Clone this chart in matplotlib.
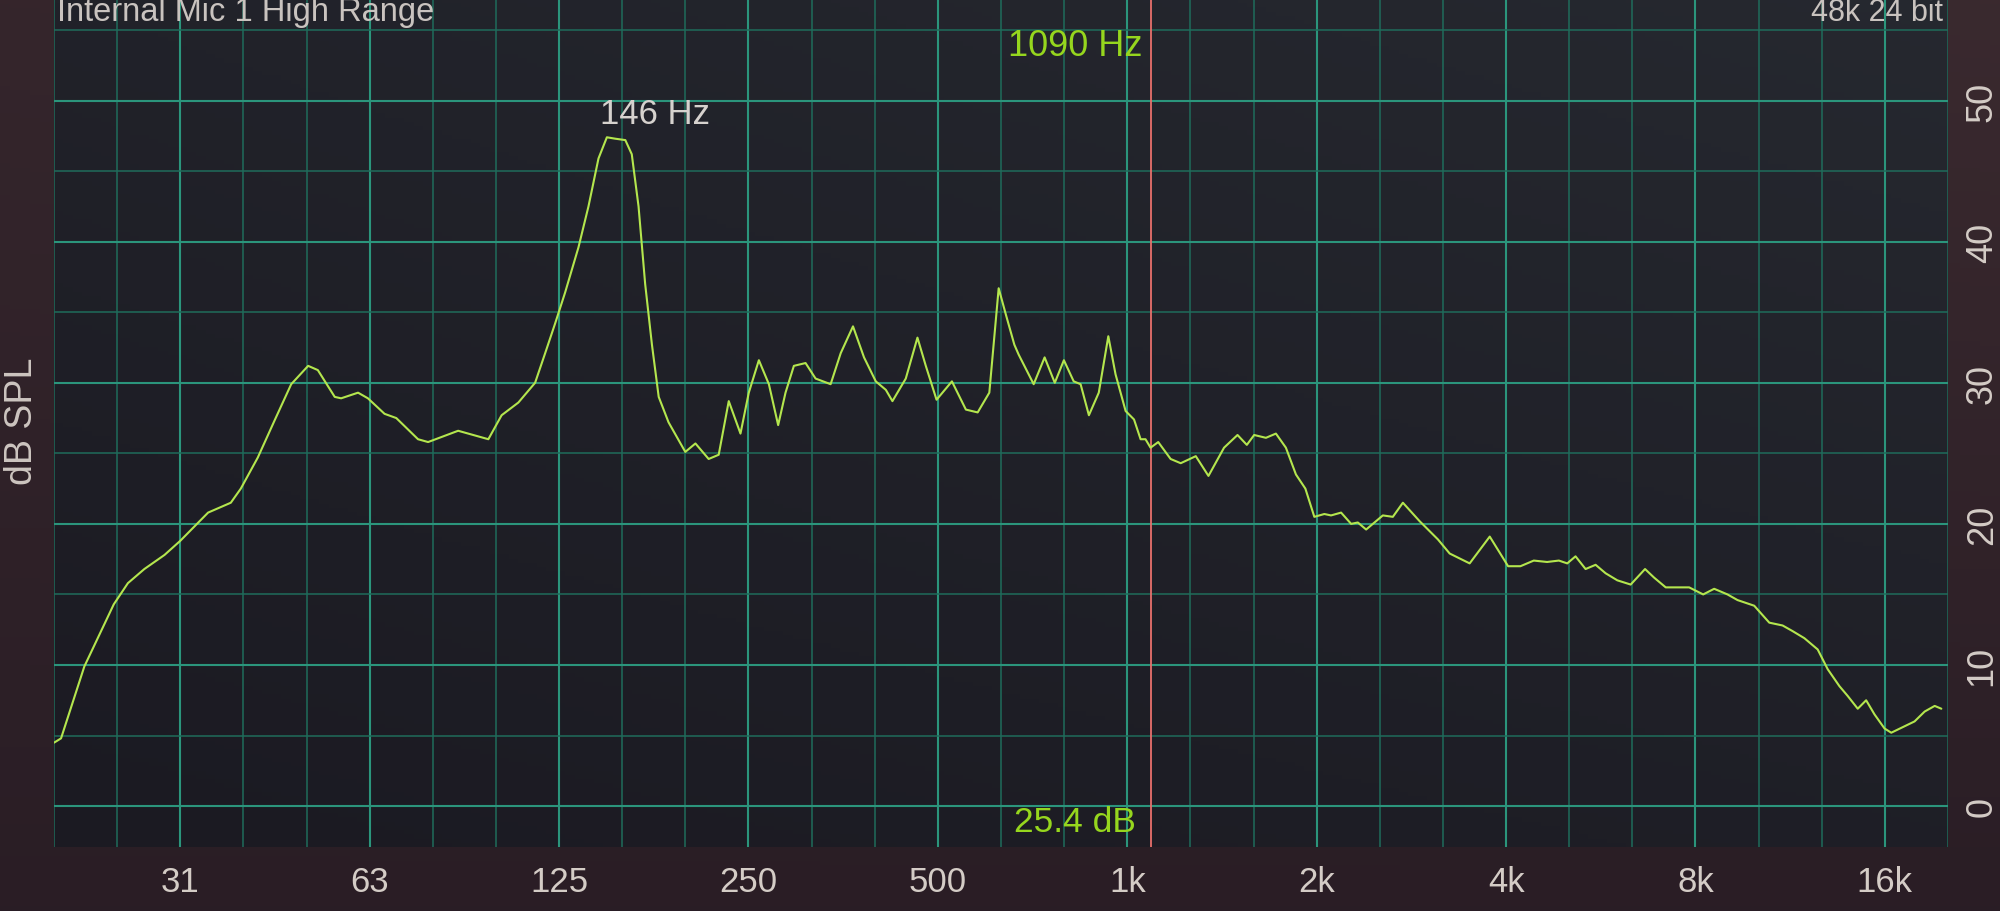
import numpy as np
import matplotlib
matplotlib.use("Agg")
import matplotlib.pyplot as plt
from matplotlib.colors import LinearSegmentedColormap

# ---------------- data ----------------
freq_hz = [19.7, 20.2, 22.0, 24.5, 25.8, 27.4, 29.5, 31.25, 34.6, 37.6, 39.0, 41.5, 44.1, 46.9,
           49.9, 51.7, 55.0, 56.3, 59.9, 62.1, 66.0, 68.9, 74.6, 77.4, 86.4, 96.5, 101.3, 107.7,
           114.5, 118.8, 123.2, 127.8, 134.2, 139.2, 144.4, 148.9, 153.5, 159.3, 163.1, 167.2,
           171.3, 175.6, 180.0, 186.6, 198.4, 205.9, 216.1, 224.2, 232.6, 242.8, 250.3, 259.7,
           269.4, 278.7, 286.3, 295.2, 308.1, 319.6, 337.7, 350.4, 366.5, 381.6, 398.4, 413.3,
           423.4, 444.6, 464.0, 478.4, 497.6, 526.4, 554.0, 578.4, 603.6, 624.6, 641.6, 661.5,
           672, 710, 739, 767, 793, 822, 843, 869, 901, 933, 958, 994, 1025, 1050, 1069, 1089,
           1120, 1172, 1216, 1285, 1346, 1425, 1497, 1549, 1591, 1661, 1723, 1787, 1854, 1919,
           1983, 2057, 2108, 2187, 2269, 2325, 2397, 2548, 2643, 2742, 2914, 3117, 3254, 3501,
           3768, 4030, 4216, 4427, 4648, 4853, 5004, 5158, 5351, 5551, 5758, 6010, 6311, 6652,
           6873, 7175, 7488, 7817, 8229, 8567, 8995, 9331, 9919, 10481, 11004, 11415, 11916,
           12513, 12980, 13548, 13968, 14489, 14940, 15404, 15980, 16379, 17089, 17837, 18508,
           19200, 19674]
level_db = [4.5, 4.8, 9.9, 14.3, 15.8, 16.8, 17.8, 18.8, 20.8, 21.5, 22.5, 24.7, 27.3, 29.9,
            31.2, 30.9, 29.0, 28.9, 29.3, 28.9, 27.8, 27.5, 26.0, 25.8, 26.6, 26.0, 27.7, 28.6,
            30.0, 32.1, 34.2, 36.4, 39.6, 42.5, 45.9, 47.4, 47.3, 47.2, 46.2, 42.5,
            37.0, 32.7, 29.0, 27.2, 25.1, 25.7, 24.6, 24.9, 28.7, 26.4, 29.3, 31.6,
            29.9, 27.0, 29.3, 31.2, 31.4, 30.3, 29.9, 32.1, 34.0, 31.8, 30.1, 29.5,
            28.7, 30.3, 33.2, 31.2, 28.8, 30.1, 28.1, 27.9, 29.3, 36.7, 34.8, 32.7,
            32.0, 29.9, 31.8, 30.0, 31.6, 30.1, 29.9, 27.7, 29.3, 33.3, 30.6, 28.0, 27.4, 26.0, 26.0, 25.4,
            25.8, 24.6, 24.3, 24.8, 23.4, 25.4, 26.3, 25.6, 26.3, 26.1, 26.4, 25.4, 23.5, 22.5,
            20.5, 20.7, 20.6, 20.8, 20.0, 20.1, 19.6, 20.6, 20.5, 21.5, 20.2, 18.9, 17.9, 17.2,
            19.1, 17.0, 17.0, 17.4, 17.3, 17.4, 17.2, 17.7, 16.8, 17.1, 16.5, 16.0, 15.7, 16.8,
            16.2, 15.5, 15.5, 15.5, 15.0, 15.4, 15.0, 14.6, 14.2, 13.0, 12.8, 12.4, 11.9,
            11.1, 9.7, 8.5, 7.8, 6.9, 7.5, 6.5, 5.5, 5.2, 5.6, 6.0, 6.7,
            7.1, 6.9]

x_tick_values = [31.25, 62.5, 125, 250, 500, 1000, 2000, 4000, 8000, 16000]
x_tick_labels = ["31", "63", "125", "250", "500", "1k", "2k", "4k", "8k", "16k"]
y_tick_values = [0, 10, 20, 30, 40, 50]
y_tick_labels = ["0", "10", "20", "30", "40", "50"]

title_text = "Internal Mic 1 High Range"
format_text = "48k 24 bit"
peak_freq = 146
peak_label = "146 Hz"
cursor_freq = 1090
cursor_label = "1090 Hz"
cursor_level_label = "25.4 dB"
y_axis_label = "dB SPL"

# ---------------- style ----------------
plt.rcParams['font.family'] = ['Liberation Sans', 'DejaVu Sans']

W, H = 2000, 912
fig = plt.figure(figsize=(W / 100, H / 100), dpi=100)

# figure background gradient
bg = fig.add_axes([0, 0, 1, 1], zorder=-10)
bg.axis("off")
gy, gx = np.mgrid[0:1:200j, 0:1:200j]
t = np.clip(0.55 * (1 - gy) + 0.25 * gx * (1 - gy) + 0.1, 0, 1)
cmap_bg = LinearSegmentedColormap.from_list("bg", ["#281c24", "#3c2b30"])
bg.imshow(t, cmap=cmap_bg, extent=(0, 1, 0, 1), aspect="auto", origin="upper", vmin=0, vmax=1)
bg.set_xlim(0, 1)
bg.set_ylim(0, 1)

left, right = 54 / W, 1948 / W
bottom, top = 1 - 848 / H, 1.0
ax = fig.add_axes([left, bottom, right - left, top - bottom])
ax.set_facecolor("none")

# plot area gradient
py, px = np.mgrid[0:1:200j, 0:1:200j]
tp = np.clip(0.5 * py + 0.5 * px * 0.6 + 0.1 * py * px, 0, 1)
cmap_pa = LinearSegmentedColormap.from_list("pa", ["#1b1a22", "#272a31"])
ax.imshow(tp, cmap=cmap_pa, extent=(0, 1, 0, 1), transform=ax.transAxes,
          aspect="auto", origin="lower", zorder=0, vmin=0, vmax=1)

ax.set_xscale("log")
xmin, xmax = 1000 * 2 ** (-17 / 3), 1000 * 2 ** (13 / 3)
ax.set_xlim(xmin, xmax)
ax.set_ylim(-2.9, 57.2)

# grid
major_c = "#2b957c"
minor_c = "#1f6c5b"
for k in range(-17, 14):
    f = 1000 * 2 ** (k / 3)
    if k % 3 == 0:
        ax.axvline(f, color=major_c, lw=1.5, zorder=1)
    else:
        ax.axvline(f, color=minor_c, lw=1.1, zorder=1)
for v in range(0, 60, 5):
    if v % 10 == 0:
        ax.axhline(v, color=major_c, lw=1.5, zorder=1)
    else:
        ax.axhline(v, color=minor_c, lw=1.1, zorder=1)

# cursor
ax.axvline(cursor_freq, color="#e8706c", lw=1.3, zorder=3)

# curve
ax.plot(freq_hz, level_db, color="#b4e64e", lw=1.5, zorder=4,
        solid_joinstyle="round", solid_capstyle="round")

# ticks
ax.set_xticks(x_tick_values)
ax.set_xticklabels(x_tick_labels)
ax.xaxis.set_minor_locator(matplotlib.ticker.NullLocator())
ax.tick_params(axis="x", length=0, pad=13, labelsize=25, labelcolor="#d4ccc6")
ax.yaxis.tick_right()
ax.set_yticks(y_tick_values)
ax.set_yticklabels(y_tick_labels, rotation=90, va="center")
ax.tick_params(axis="y", length=0, pad=12, labelsize=26, labelcolor="#d4ccc6")
for s in ax.spines.values():
    s.set_visible(False)

# texts
ax.text(0.0016, 1.0 - 13 / 848, title_text, transform=ax.transAxes, fontsize=23.5,
        color="#c9c3bf", ha="left", va="center", zorder=5)
ax.text(0.9975, 1.0 - 13 / 848, format_text, transform=ax.transAxes, fontsize=22,
        color="#c9c3bf", ha="right", va="center", zorder=5)

peak_level = max(level_db)
ax.annotate(peak_label, xy=(peak_freq, peak_level), xytext=(-1, 17), textcoords="offset points",
            ha="left", va="center", fontsize=25, color="#d6d2ce", zorder=5)

ax.annotate(cursor_label, xy=(cursor_freq, 1.0 - 47 / 848), xycoords=("data", "axes fraction"),
            xytext=(-6, 0), textcoords="offset points", ha="right", va="center",
            fontsize=26, color="#96d61e", zorder=5)
ax.annotate(cursor_level_label, xy=(cursor_freq, 1.0 - 823 / 848), xycoords=("data", "axes fraction"),
            xytext=(-11, 0), textcoords="offset points", ha="right", va="center",
            fontsize=25.5, color="#96d61e", zorder=5)

fig.text(22 / W, 1 - 421 / H, y_axis_label, rotation=90, ha="center", va="center",
         fontsize=27, color="#cdc5c0")

fig.savefig("out.png", dpi=100, facecolor="#2e2228")
